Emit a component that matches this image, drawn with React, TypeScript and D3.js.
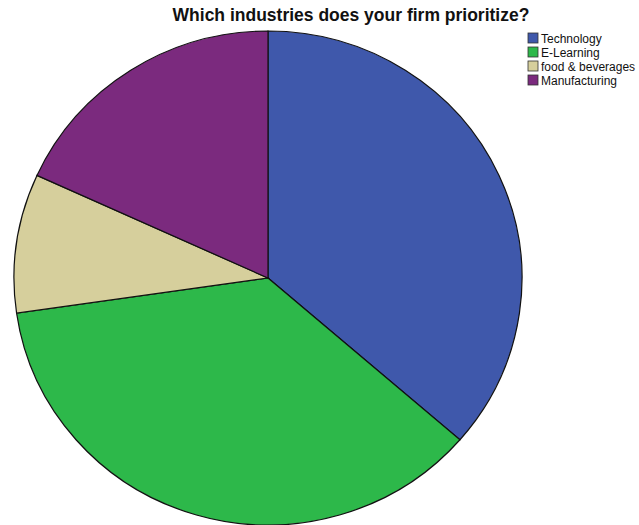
import React from "react";
import * as d3 from "d3";

const categories = ["Technology", "E-Learning", "food & beverages", "Manufacturing"];
const counts = [4, 4, 1, 2];
const colors = ["#3f58ab", "#2db84a", "#d6cf9c", "#7b2a7e"];
const title = "Which industries does your firm prioritize?";

export default function App() {
  const W = 639, H = 525;
  const cx = 268, cy = 278, ry = 247, rx = 254;
  const pie = d3.pie<number>().sort(null).value((d) => d);
  const arcs = pie(counts);
  const arc = d3.arc<d3.PieArcDatum<number>>().innerRadius(0).outerRadius(ry);
  return (
    <svg width={W} height={H} style={{ position: "absolute", left: 0, top: 0 }}>
      <rect width={W} height={H} fill="#fff" />
      <text x={351} y={21} textAnchor="middle" fontFamily="Liberation Sans, Arial, sans-serif" fontWeight="bold" fontSize={17.5} fill="#111">
        {title}
      </text>
      <g transform={`translate(${cx},${cy}) scale(${rx / ry},1)`}>
        {arcs.map((a, i) => (
          <path key={i} d={arc(a) || ""} fill={colors[i]} stroke="#111" strokeWidth={1.2} vectorEffect="non-scaling-stroke" />
        ))}
      </g>
      <g fontFamily="Liberation Sans, Arial, sans-serif" fontSize={12} fill="#111">
        {categories.map((c, i) => (
          <g key={c} transform={`translate(528,${33 + i * 14})`}>
            <rect width={10} height={10} fill={colors[i]} stroke="#333" strokeWidth={0.8} />
            <text x={13} y={9.5}>{c}</text>
          </g>
        ))}
      </g>
    </svg>
  );
}
